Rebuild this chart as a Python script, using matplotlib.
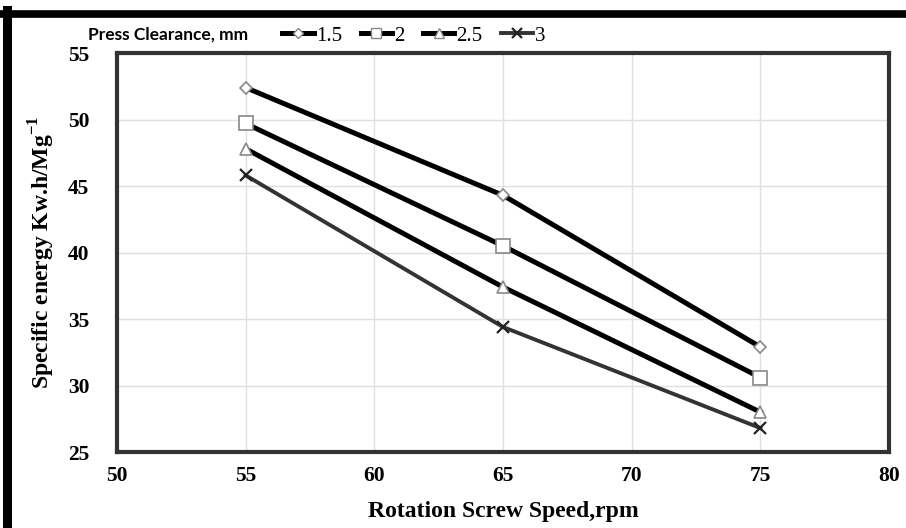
import matplotlib.pyplot as plt
from matplotlib.lines import Line2D

# Data
speed = [55, 65, 75]
clearances = ["1.5", "2", "2.5", "3"]
energy_15 = [52.4, 44.3, 32.9]
energy_2 = [49.7, 40.5, 30.6]
energy_25 = [47.8, 37.4, 28.0]
energy_3 = [45.8, 34.4, 26.8]

series = [energy_15, energy_2, energy_25, energy_3]
markers = ["D", "s", "^", "x"]
msizes = [6, 10, 8, 8]
lcolors = ["black", "black", "black", "#333333"]
lwidths = [3.6, 3.6, 3.6, 2.8]

serif = ["Liberation Serif", "DejaVu Serif"]

fig = plt.figure(figsize=(9.06, 5.28), dpi=100)
W, H = 906, 528
ax = fig.add_axes([117 / W, 1 - 452 / H, (889 - 117) / W, (452 - 53) / H])

for vals, m, ms, c, lw in zip(series, markers, msizes, lcolors, lwidths):
    if m == "x":
        ax.plot(speed, vals, color=c, lw=lw, marker=m, ms=ms, mew=1.6,
                mec="#222222", zorder=3)
    else:
        ax.plot(speed, vals, color=c, lw=lw, marker=m, ms=ms,
                mfc="white", mec="#888888", mew=1.2, zorder=3)

ax.set_xlim(50, 80)
ax.set_ylim(25, 55)
ax.set_xticks(range(50, 81, 5))
ax.set_yticks(range(25, 56, 5))
ax.grid(True, color="#e0e0e0", lw=1.0)
ax.set_axisbelow(True)
for s in ax.spines.values():
    s.set_linewidth(3)
    s.set_color("#333333")
ax.tick_params(length=0)
for lab in ax.get_xticklabels() + ax.get_yticklabels():
    lab.set_fontfamily(serif)
    lab.set_fontweight("bold")
    lab.set_fontsize(15.5)
ax.tick_params(axis="x", pad=10)
ax.tick_params(axis="y", pad=20)

ax.set_xlabel("Rotation Screw Speed,rpm", family=serif, fontweight="bold",
              fontsize=17, labelpad=11)
ax.set_ylabel(r"Specific energy Kw.h/Mg$^{\mathregular{-1}}$", family=serif,
              fontweight="bold", fontsize=17, labelpad=8)

# Legend across the top
fig.text(88 / W, 1 - 35 / H, "Press Clearance, mm",
         family=["Lato", "DejaVu Sans"],
         fontweight="bold", fontsize=12.5, va="center", ha="left")
handles = []
for m, c, lw in zip(markers, lcolors, lwidths):
    if m == "x":
        handles.append(Line2D([], [], color=c, lw=lw, marker=m, ms=7, mew=1.6, mec="#222222"))
    else:
        handles.append(Line2D([], [], color=c, lw=lw, marker=m, ms=7 if m != "D" else 5,
                              mfc="white", mec="#888888", mew=1.0))
leg = fig.legend(handles, clearances, loc="center left", bbox_to_anchor=(272 / W, 1 - 36 / H),
                 ncol=4, frameon=False, handlelength=1.5, handletextpad=0.1,
                 columnspacing=0.9, borderpad=0, prop={"family": serif, "size": 15})

# Outer frame lines (top and left)
fig.add_artist(Line2D([3 / W, 1], [1 - 13.5 / H, 1 - 13.5 / H], color="black", lw=5.5,
                      transform=fig.transFigure))
fig.add_artist(Line2D([7 / W, 7 / W], [0, 1 - 10 / H], color="black", lw=6.5,
                      transform=fig.transFigure))

fig.savefig("out.png", dpi=100)
